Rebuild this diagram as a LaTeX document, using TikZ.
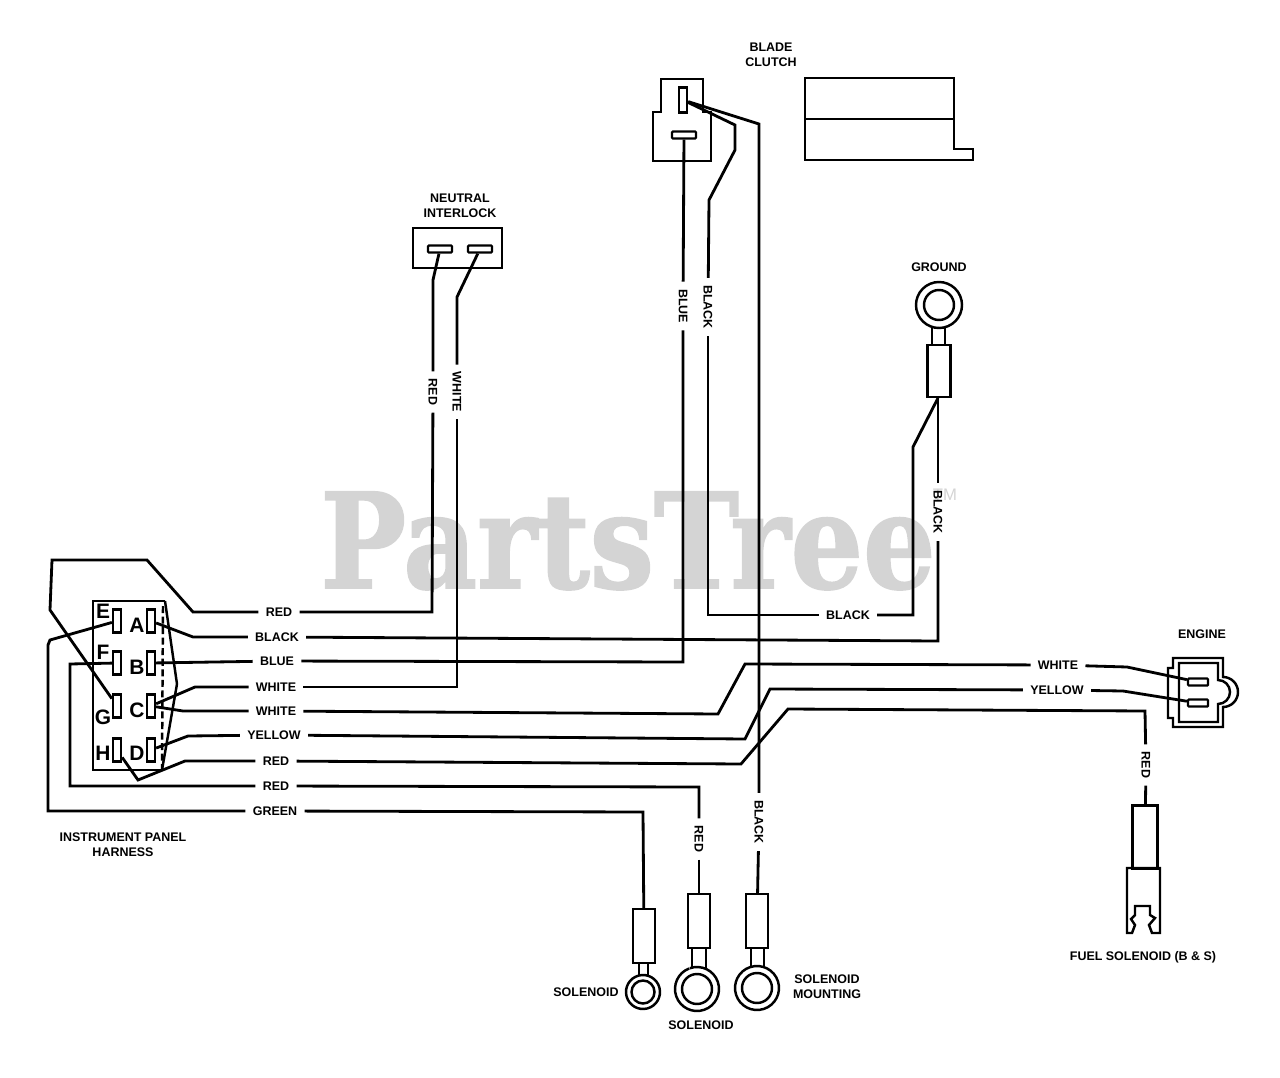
\documentclass[tikz,border=0pt]{standalone}
\usepackage{fontspec}
\setmainfont{Liberation Sans}
\newfontfamily\markfont[BoldFeatures={FakeBold=1.5}]{DejaVu Serif}
\definecolor{markgray}{gray}{0.83}
\tikzset{
  wire/.style={line width=1.6pt,line join=miter},
  outline/.style={line width=1.4pt},
  thinline/.style={line width=0.9pt},
  lab/.style={font=\fontsize{7.1}{8.6}\selectfont\bfseries,align=center,inner sep=0pt},
  wirelab/.style={lab,inner xsep=4pt,inner ysep=1pt},
  vlab/.style={wirelab,rotate=-90},
  pinlab/.style={font=\fontsize{11.9}{12}\selectfont\bfseries,inner sep=0pt},
  slot/.style={draw=black,line width=1.3pt,fill=white,inner sep=0pt,minimum width=8*0.2mm,minimum height=23*0.2mm},
  flat/.style={draw=black,line width=1.3pt,fill=white,rounded corners=0.5pt,inner sep=0pt,minimum width=24*0.2mm,minimum height=7*0.2mm},
  barrel/.style={draw=black,line width=1.4pt,inner sep=0pt},
}
\begin{document}
\begin{tikzpicture}[x=0.2mm,y=-0.2mm]
\useasboundingbox (0,0) rectangle (1280,1078);
% watermark
\node (mark) [font=\markfont\fontsize{75}{75}\selectfont\bfseries,text=markgray,inner sep=0pt,anchor=base,xscale=0.865] at (628,588) {PartsTree};
\node (markTM) [font=\fontsize{9.5}{10}\selectfont,text=markgray,inner sep=0pt] at (945,495) {TM};
%
% instrument panel
\draw[outline] (165,601) -- (93,601) -- (93,770) -- (162,770);
\draw[outline,dashed,dash pattern=on 4pt off 2pt] (163,606) -- (162,770);
\draw[outline] (165,601) -- (177,684) -- (162,770);
\node (slotE) [slot] at (117,621) {};
\node (slotF) [slot] at (117,663) {};
\node (slotG) [slot] at (117,706) {};
\node (slotH) [slot] at (117,750) {};
\node (slotA) [slot] at (151,621) {};
\node (slotB) [slot] at (151,663) {};
\node (slotC) [slot] at (151,706) {};
\node (slotD) [slot] at (151,750) {};
\node (pinE) [pinlab] at (103,611) {E};
\node (pinF) [pinlab] at (103,652) {F};
\node (pinG) [pinlab] at (103,717) {G};
\node (pinH) [pinlab] at (103,753) {H};
\node (pinA) [pinlab] at (137,625) {A};
\node (pinB) [pinlab] at (137,667) {B};
\node (pinC) [pinlab] at (137,710) {C};
\node (pinD) [pinlab] at (137,753) {D};
\node (panel) [lab] at (123,845) {INSTRUMENT PANEL\\HARNESS};
%
% neutral interlock
\draw[outline] (413,228) rectangle (502,268);
\node (slotN1) [flat] at (440,249) {};
\node (slotN2) [flat] at (480,249) {};
\node (neutral) [lab] at (460,206) {NEUTRAL\\INTERLOCK};
%
% blade clutch
\draw[outline] (661,79) -- (703,79) -- (703,112) -- (711,112) -- (711,161) -- (653,161) -- (653,112) -- (661,112) -- cycle;
\node (slotK1) [slot,minimum height=25*0.2mm] at (683,100) {};
\node (slotK2) [flat] at (684,135) {};
\node (clutch) [lab] at (771,55) {BLADE\\CLUTCH};
\draw[outline] (805,78) -- (954,78) -- (954,149) -- (973,149) -- (973,160) -- (805,160) -- cycle;
\draw[thinline] (805,119) -- (954,119);
%
% ground
\node (ringG) [circle,draw=black,line width=1.4pt,inner sep=0pt,minimum size=30*0.2mm] at (939,305) {};
\draw[outline] (939,305) ++(-113:23) arc (-113:247:23);
\draw[outline] (932,326) -- (932,345);
\draw[outline] (945,326) -- (945,345);
\node (barG) [barrel,minimum width=23*0.2mm,minimum height=52*0.2mm] at (939,371) {};
\node (ground) [lab] at (939,267) {GROUND};
\coordinate (tapG) at (938,398);
%
% engine
\draw[outline] (1173,658) -- (1223,658) -- (1223,677) arc (-90:90:15) -- (1223,727) -- (1173,727) -- (1173,718) -- (1168,718) -- (1168,668) -- (1173,668) -- cycle;
\draw[outline] (1179,663) -- (1218,663) -- (1218,680) arc (-90:90:12) -- (1218,722) -- (1179,722) -- cycle;
\node (slotW) [flat,minimum width=20*0.2mm] at (1198,682) {};
\node (slotY) [flat,minimum width=20*0.2mm] at (1198,703) {};
\node (engine) [lab] at (1202,634) {ENGINE};
%
% fuel solenoid
\node (barF) [barrel,minimum width=25*0.2mm,minimum height=63*0.2mm] at (1145,837) {};
\draw[outline] (1127,868) -- (1160,868) -- (1160,933) -- (1152,933) -- (1149,925) -- (1155,918) -- (1150,915) -- (1150,906) -- (1135,906) -- (1135,915) -- (1131,919) -- (1135,925) -- (1132,933) -- (1127,933) -- cycle;
\node (fuel) [lab] at (1143,957) {FUEL SOLENOID (B \& S)};
%
% ring terminals
\node (barS1) [barrel,minimum width=22*0.2mm,minimum height=54*0.2mm] at (644,936) {};
\node (ringS1) [circle,draw=black,line width=1.4pt,inner sep=0pt,minimum size=23*0.2mm] at (643,992) {};
\draw[outline] (643,992) ++(-105:17) arc (-105:255:17);
\draw[outline] (639,963) -- (639,976);
\draw[outline] (648,963) -- (648,976);
\node (solA) [lab] at (586,992) {SOLENOID};
%
\node (barS2) [barrel,minimum width=22*0.2mm,minimum height=54*0.2mm] at (699,921) {};
\node (ringS2) [circle,draw=black,line width=1.4pt,inner sep=0pt,minimum size=30*0.2mm] at (697,989) {};
\draw[outline] (697,989) ++(-109:22) arc (-109:249:22);
\draw[outline] (692,948) -- (692,968);
\draw[outline] (706,948) -- (706,970);
\node (solB) [lab] at (701,1025) {SOLENOID};
%
\node (barS3) [barrel,minimum width=22*0.2mm,minimum height=54*0.2mm] at (757,921) {};
\node (ringS3) [circle,draw=black,line width=1.4pt,inner sep=0pt,minimum size=30*0.2mm] at (757,988) {};
\draw[outline] (757,988) ++(-108:22) arc (-108:252:22);
\draw[outline] (751,948) -- (751,967);
\draw[outline] (764,948) -- (764,967);
\node (solC) [lab] at (827,987) {SOLENOID\\MOUNTING};
%
% wire labels
\node (redTop) [wirelab] at (279,612) {RED};
\node (blackA) [wirelab] at (277,637) {BLACK};
\node (blueB) [wirelab] at (277,661) {BLUE};
\node (whiteC1) [wirelab] at (276,687) {WHITE};
\node (whiteC2) [wirelab] at (276,711) {WHITE};
\node (yellowD) [wirelab] at (274,735) {YELLOW};
\node (redH) [wirelab] at (276,761) {RED};
\node (redF) [wirelab] at (276,786) {RED};
\node (greenE) [wirelab] at (275,811) {GREEN};
\node (redN) [vlab] at (433,392) {RED};
\node (whiteN) [vlab] at (457,392) {WHITE};
\node (blueK) [vlab] at (683,306) {BLUE};
\node (blackK) [vlab] at (708,307) {BLACK};
\node (blackG) [vlab] at (938,512) {BLACK};
\node (blackM) [wirelab] at (848,615) {BLACK};
\node (whiteE) [wirelab] at (1058,665) {WHITE};
\node (yellowE) [wirelab] at (1057,690) {YELLOW};
\node (redS) [vlab] at (1146,765) {RED};
\node (redS2) [vlab] at (699,839) {RED};
\node (blackS) [vlab] at (759,822) {BLACK};
%
% wires
\draw[wire] (slotG) -- (50,610) -- (52,560) -- (147,560) -- (193,612) -- (redTop);
\draw[wire] (redTop) -- (432,612) -- (redN);
\draw[wire] (redN) -- (433,280) -- (slotN1);
\draw[wire] (whiteC1) -- (457,687) -- (whiteN);
\draw[wire] (whiteN) -- (457,297) -- (slotN2);
\draw[wire] (slotC) -- (195,687) -- (whiteC1);
\draw[wire] (slotC) -- (183,711) -- (whiteC2);
\draw[wire] (slotA) -- (193,637) -- (blackA);
\draw[wire] (blackA) -- (938,641) -- (blackG);
\draw[wire] (blackG) -- (tapG);
\draw[wire] (tapG) -- (913,447) -- (913,615) -- (blackM);
\draw[wire] (blackM) -- (708,615) -- (blackK);
\draw[wire] (blackK) -- (709,200) -- (735,150) -- (735,125) -- (slotK1);
\draw[wire] (slotB) -- (blueB);
\draw[wire] (blueB) -- (683,662) -- (blueK);
\draw[wire] (blueK) -- (slotK2);
\draw[wire] (slotK1) -- (759,124) -- (blackS);
\draw[wire] (blackS) -- (barS3);
\draw[wire] (whiteC2) -- (718,714) -- (745,664) -- (whiteE);
\draw[wire] (whiteE) -- (1127,667) -- (slotW);
\draw[wire] (slotD) -- (188,736) -- (yellowD);
\draw[wire] (yellowD) -- (745,739) -- (770,689) -- (yellowE);
\draw[wire] (yellowE) -- (1123,691) -- (slotY);
\draw[wire] (slotH) -- (138,780) -- (185,761) -- (redH);
\draw[wire] (redH) -- (741,764) -- (788,709) -- (1145,711) -- (redS);
\draw[wire] (redS) -- (barF);
\draw[wire] (slotF) -- (70,664) -- (70,786) -- (redF);
\draw[wire] (redF) -- (699,787) -- (redS2);
\draw[wire] (redS2) -- (barS2);
\draw[wire] (slotE) -- (50,640) -- (48,645) -- (48,811) -- (greenE);
\draw[wire] (greenE) -- (643,812) -- (barS1);
\end{tikzpicture}
\end{document}
